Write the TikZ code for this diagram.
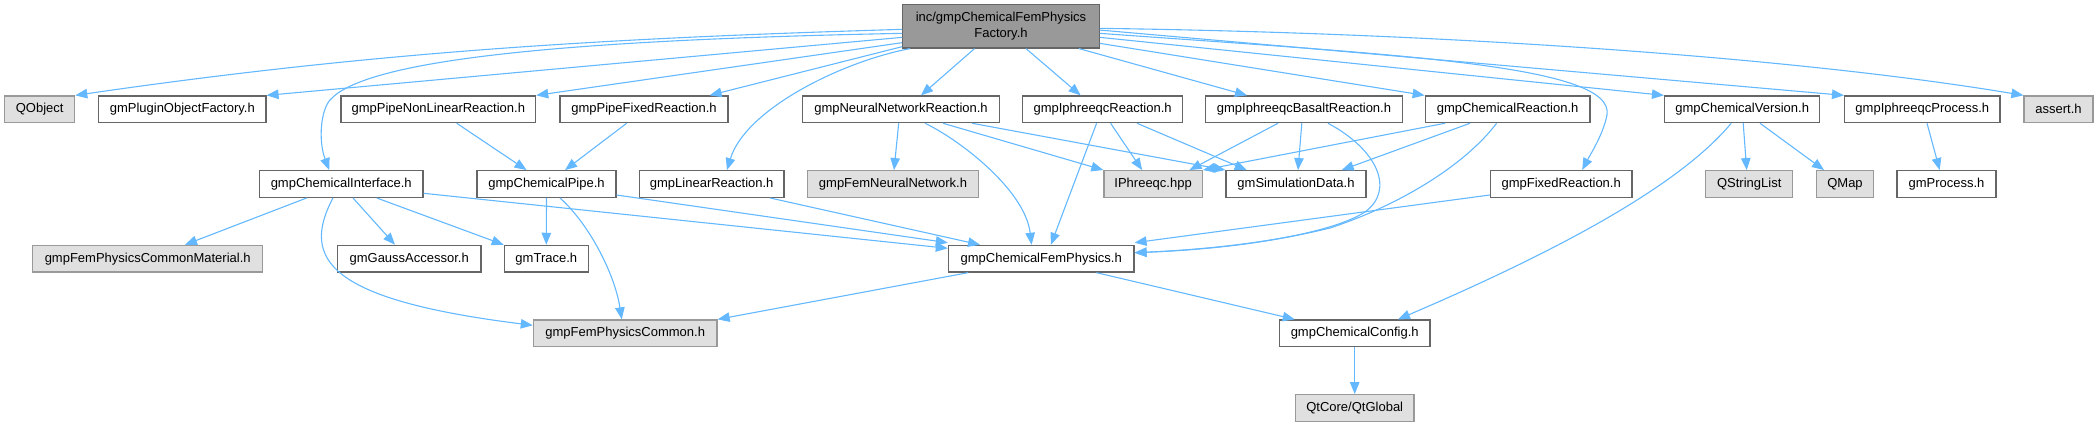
\documentclass[tikz,border=0pt]{standalone}
\usepackage{fontspec}
\setmainfont{Liberation Sans}
\usetikzlibrary{arrows.meta}
\definecolor{edgeblue}{HTML}{63B8FF}
\definecolor{boxline}{HTML}{666666}
\definecolor{sysline}{HTML}{999999}
\definecolor{sysfill}{HTML}{E0E0E0}
\definecolor{rootfill}{HTML}{999999}
\begin{document}
\begin{tikzpicture}[x=1bp,y=-1bp,
    hdr/.style={draw=boxline, fill=white, line width=1.2bp, inner sep=0pt, minimum height=26.7bp, font=\fontsize{13bp}{15.7bp}\selectfont},
    sys/.style={hdr, draw=sysline, fill=sysfill},
    root/.style={hdr, fill=rootfill, minimum height=43.3bp, align=center},
    inc/.style={draw=edgeblue, line width=1.1bp, -{Triangle[length=12bp,width=9.5bp]}}]
    \useasboundingbox (0,0) rectangle (2098,427);

    \node[root, minimum width=196.5bp] (main) at (1001,26.35) {inc/gmpChemicalFemPhysics\\Factory.h};

    \node[sys, minimum width=70bp] (qobj) at (39.7,109.3) {QObject};
    \node[hdr, minimum width=167.3bp] (plugin) at (182.3,109.3) {gmPluginObjectFactory.h};
    \node[hdr, minimum width=194.7bp] (pipenl) at (438.3,109.3) {gmpPipeNonLinearReaction.h};
    \node[hdr, minimum width=168bp] (pipefix) at (644,109.3) {gmpPipeFixedReaction.h};
    \node[hdr, minimum width=196.6bp] (neural) at (901,109.3) {gmpNeuralNetworkReaction.h};
    \node[hdr, minimum width=159.7bp] (iphr) at (1102.6,109.3) {gmpIphreeqcReaction.h};
    \node[hdr, minimum width=197bp] (basalt) at (1304,109.3) {gmpIphreeqcBasaltReaction.h};
    \node[hdr, minimum width=164.7bp] (chemreac) at (1507.6,109.3) {gmpChemicalReaction.h};
    \node[hdr, minimum width=155.3bp] (version) at (1742.2,109.3) {gmpChemicalVersion.h};
    \node[hdr, minimum width=155.4bp] (process) at (1922.3,109.3) {gmpIphreeqcProcess.h};
    \node[sys, minimum width=69bp] (assert) at (2058.5,109.3) {assert.h};

    \node[hdr, minimum width=163.7bp] (iface) at (341.2,184) {gmpChemicalInterface.h};
    \node[hdr, minimum width=139bp] (pipe) at (546.5,184) {gmpChemicalPipe.h};
    \node[hdr, minimum width=144.7bp] (linear) at (711.7,184) {gmpLinearReaction.h};
    \node[sys, minimum width=170.6bp] (femnn) at (893,184) {gmpFemNeuralNetwork.h};
    \node[sys, minimum width=98.4bp] (iphpp) at (1153.1,184) {IPhreeqc.hpp};
    \node[hdr, minimum width=140bp] (simdata) at (1296,184) {gmSimulationData.h};
    \node[hdr, minimum width=141.7bp] (fixed) at (1561.2,184) {gmpFixedReaction.h};
    \node[sys, minimum width=86.8bp] (qsl) at (1749.2,184) {QStringList};
    \node[sys, minimum width=57bp] (qmap) at (1845,184) {QMap};
    \node[hdr, minimum width=99bp] (gmproc) at (1946.5,184) {gmProcess.h};

    \node[sys, minimum width=230bp] (material) at (147.7,258.7) {gmpFemPhysicsCommonMaterial.h};
    \node[hdr, minimum width=143.7bp] (gauss) at (409.2,258.7) {gmGaussAccessor.h};
    \node[hdr, minimum width=84bp] (trace) at (546.3,258.7) {gmTrace.h};
    \node[hdr, minimum width=185.6bp] (cfp) at (1041.2,258.7) {gmpChemicalFemPhysics.h};

    \node[sys, minimum width=183.7bp] (common) at (625.2,333.3) {gmpFemPhysicsCommon.h};
    \node[hdr, minimum width=150.5bp] (config) at (1354.7,333.3) {gmpChemicalConfig.h};

    \node[sys, minimum width=118.6bp] (qtglobal) at (1354.7,408) {QtCore/QtGlobal};

    \draw[inc] ([yshift=-3bp]main.west) .. controls (603,38.3) and (376,51.7) .. (qobj.north east);
    \draw[inc] ([yshift=-7bp]main.west) .. controls (560,40) and (365,60) .. (330,100) .. controls (321,110) and (318,140) .. ([xshift=-12bp]iface.north);
    \draw[inc] ([yshift=-11bp]main.west) -- (plugin.north east);
    \draw[inc] ([yshift=-16.3bp]main.west) -- (pipenl.north east);
    \draw[inc] ([yshift=-20.3bp]main.west) -- ([xshift=-19bp]pipefix.north east);
    \draw[inc] ([xshift=-91bp]main.south) .. controls (840,62) and (745,110) .. ([xshift=15.3bp]linear.north);
    \draw[inc] ([xshift=-26.5bp]main.south) -- ([xshift=20bp]neural.north);
    \draw[inc] ([xshift=25bp]main.south) -- ([xshift=-22bp]iphr.north);
    \draw[inc] ([xshift=78bp]main.south) -- ([xshift=-57bp]basalt.north);
    \draw[inc] ([yshift=-17bp]main.east) -- (chemreac.north west);
    \draw[inc] ([yshift=-7bp]main.east) .. controls (1400,55) and (1615,65) .. (1607,115) .. controls (1603,135) and (1590,155) .. ([xshift=21bp]fixed.north);
    \draw[inc] ([yshift=-11bp]main.east) -- (version.north west);
    \draw[inc] ([yshift=-3.7bp]main.east) -- (process.north west);
    \draw[inc] ([yshift=-2bp]main.east) .. controls (1450,33) and (1800,58) .. (assert.north west);

    \draw[inc] ([xshift=18.4bp]pipenl.south) -- ([xshift=-20bp]pipe.north);
    \draw[inc] ([xshift=-17.3bp]pipefix.south) -- ([xshift=18.5bp]pipe.north);
    \draw[inc] ([xshift=-2.3bp]neural.south) -- ([xshift=1bp]femnn.north);
    \draw[inc] ([xshift=42bp]neural.south) -- (iphpp.north west);
    \draw[inc] ([xshift=71bp]neural.south) -- (simdata.north west);
    \draw[inc] ([xshift=24bp]neural.south) .. controls (960,140) and (1025,190) .. ([xshift=-9.6bp]cfp.north);
    \draw[inc] ([xshift=8bp]iphr.south) -- ([xshift=-11bp]iphpp.north);
    \draw[inc] ([xshift=34.4bp]iphr.south) -- ([xshift=-49.3bp]simdata.north);
    \draw[inc] ([xshift=-6bp]iphr.south) -- ([xshift=9.7bp]cfp.north);
    \draw[inc] ([xshift=-26bp]basalt.south) -- ([xshift=36.4bp]iphpp.north);
    \draw[inc] ([xshift=-2.2bp]basalt.south) -- ([xshift=2bp]simdata.north);
    \draw[inc] ([xshift=24bp]basalt.south) .. controls (1378,150) and (1395,190) .. (1365,212) .. controls (1320,240) and (1200,250) .. ([yshift=6bp]cfp.east);
    \draw[inc] ([xshift=-62.6bp]chemreac.south) -- (iphpp.north east);
    \draw[inc] ([xshift=-37.6bp]chemreac.south) -- ([xshift=45.7bp]simdata.north);
    \draw[inc] ([xshift=-11bp]chemreac.south) .. controls (1465,165) and (1400,205) .. (1330,228) .. controls (1260,245) and (1200,250) .. ([yshift=6bp]cfp.east);
    \draw[inc] ([yshift=-11bp]fixed.west) -- ([yshift=16bp]cfp.east);
    \draw[inc] ([xshift=-11bp]version.south) .. controls (1680,185) and (1560,250) .. ([xshift=43.3bp]config.north);
    \draw[inc] ([xshift=1bp]version.south) -- ([xshift=-2.5bp]qsl.north);
    \draw[inc] ([xshift=17.8bp]version.south) -- ([xshift=-21bp]qmap.north);
    \draw[inc] ([xshift=4.7bp]process.south) -- ([xshift=-6.8bp]gmproc.north);

    \draw[inc] ([xshift=-34.5bp]iface.south) -- ([xshift=37.3bp]material.north);
    \draw[inc] ([xshift=11.8bp]iface.south) -- ([xshift=-14.2bp]gauss.north);
    \draw[inc] ([xshift=35.5bp]iface.south) -- (trace.north west);
    \draw[inc] ([xshift=-8.2bp]iface.south) .. controls (300,260) and (330,300) .. ([yshift=8bp]common.west);
    \draw[inc] ([yshift=-9.3bp]iface.east) -- ([yshift=10.4bp]cfp.west);
    \draw[inc] (pipe.south) -- (trace.north);
    \draw[inc] ([xshift=13.5bp]pipe.south) .. controls (590,225) and (615,275) .. ([xshift=-3.5bp]common.north);
    \draw[inc] ([yshift=-11bp]pipe.east) -- ([yshift=16bp]cfp.west);
    \draw[inc] ([xshift=58.3bp]linear.south) -- ([xshift=-61.2bp]cfp.north);
    \draw[inc] ([xshift=-73bp]cfp.south) -- (common.north east);
    \draw[inc] ([xshift=55.3bp]cfp.south) -- ([xshift=-60bp]config.north);
    \draw[inc] (config.south) -- (qtglobal.north);
\end{tikzpicture}
\end{document}
